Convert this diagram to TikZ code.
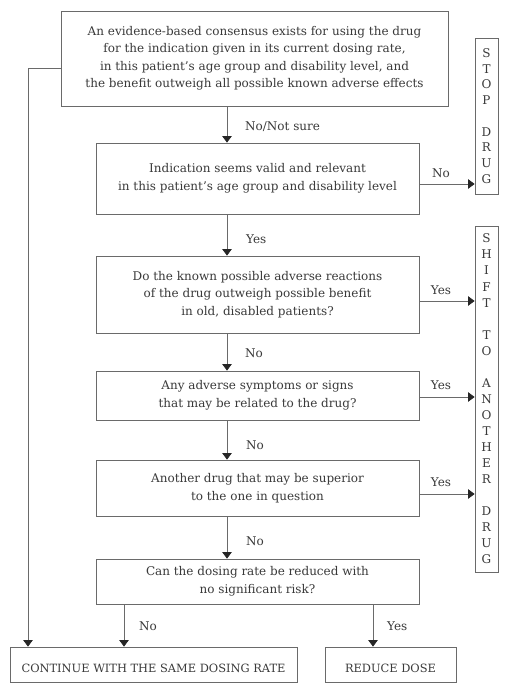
\documentclass[tikz,border=0pt]{standalone}
\usepackage{fontspec}
\setmainfont{DejaVu Serif}
\usetikzlibrary{arrows.meta}
\definecolor{ink}{HTML}{3A3A3A}
\definecolor{linec}{HTML}{6A6A6A}
\definecolor{tipc}{HTML}{262626}
\begin{document}
\begin{tikzpicture}[x=1pt,y=-1pt,
  box/.style={draw=linec,line width=0.8pt,rectangle,align=center,text=ink,
    font=\fontsize{12}{17.5}\selectfont,inner sep=0pt,
    execute at begin node={\rule{0pt}{16pt}}},
  capbox/.style={box,font=\fontsize{11.4}{14}\selectfont,
    execute at begin node={\rule{0pt}{13pt}}},
  side/.style={draw=linec,line width=0.8pt,rectangle,align=center,text=ink,
    inner sep=0pt,minimum width=23pt},
  arr/.style={draw=linec,line width=0.75pt,-{Triangle[width=9.5pt,length=6.5pt,color=tipc]}},
  lbl/.style={text=ink,font=\fontsize{12}{15}\selectfont,inner sep=0pt}]
\useasboundingbox (0,0) rectangle (515,695);
\fill[white] (0,0) rectangle (515,695);

\node[box,minimum width=387pt,minimum height=95pt] (b1) at (254.5,58.5)
  {An evidence-based consensus exists for using the drug\\
   for the indication given in its current dosing rate,\\
   in this patient's age group and disability level, and\\
   the benefit outweigh all possible known adverse effects};
\node[box,minimum width=323pt,minimum height=71pt] (b2) at (257.5,178.5)
  {Indication seems valid and relevant\\
   in this patient's age group and disability level};
\node[box,minimum width=323pt,minimum height=77pt] (b3) at (257.5,294.5)
  {Do the known possible adverse reactions\\
   of the drug outweigh possible benefit\\
   in old, disabled patients?};
\node[box,minimum width=323pt,minimum height=49pt] (b4) at (257.5,395.5)
  {Any adverse symptoms or signs\\
   that may be related to the drug?};
\node[box,minimum width=323pt,minimum height=56pt] (b5) at (257.5,488)
  {Another drug that may be superior\\
   to the one in question};
\node[box,minimum width=323pt,minimum height=45pt] (b6) at (257.5,581.5)
  {Can the dosing rate be reduced with\\
   no significant risk?};
\node[capbox,minimum width=287pt,minimum height=35pt] (cont) at (153.5,664.5)
  {CONTINUE WITH THE SAME DOSING RATE};
\node[capbox,minimum width=131pt,minimum height=35pt] (red) at (390.5,664.5)
  {REDUCE DOSE};

\node[side,minimum height=156pt,font=\fontsize{12}{15.75}\selectfont] (stop) at (486.5,116)
  {S\\T\\O\\P\\~\\D\\R\\U\\G};
\node[side,minimum height=346pt,font=\fontsize{12}{16.05}\selectfont] (shift) at (486.5,399)
  {S\\H\\I\\F\\T\\~\\T\\O\\~\\A\\N\\O\\T\\H\\E\\R\\~\\D\\R\\U\\G};

\coordinate (ax) at (227,0);
\draw[arr] (b1.south -| ax) -- (b2.north -| ax);
\draw[arr] (b2.south -| ax) -- (b3.north -| ax);
\draw[arr] (b3.south -| ax) -- (b4.north -| ax);
\draw[arr] (b4.south -| ax) -- (b5.north -| ax);
\draw[arr] (b5.south -| ax) -- (b6.north -| ax);

\node[lbl,anchor=west] (l1) at (245,127) {No/Not sure};
\node[lbl,anchor=west] (l2) at (246,239) {Yes};
\node[lbl,anchor=west] (l3) at (245,353) {No};
\node[lbl,anchor=west] (l4) at (246,445) {No};
\node[lbl,anchor=west] (l5) at (246,541) {No};

\coordinate (bx) at (124,0);
\coordinate (cx) at (373,0);
\draw[arr] (b6.south -| bx) -- (cont.north -| bx);
\draw[arr] (b6.south -| cx) -- (red.north -| cx);
\node[lbl,anchor=west] (l6) at (139,626) {No};
\node[lbl,anchor=west] (l7) at (387,626) {Yes};

\path ([yshift=-5.5pt]b2.east) coordinate (s2);
\path ([yshift=-6.5pt]b3.east) coordinate (s3);
\path ([yshift=-1.5pt]b4.east) coordinate (s4);
\path ([yshift=-6pt]b5.east) coordinate (s5);
\draw[arr] (s2) -- (s2 -| stop.west);
\draw[arr] (s3) -- (s3 -| shift.west);
\draw[arr] (s4) -- (s4 -| shift.west);
\draw[arr] (s5) -- (s5 -| shift.west);
\node[lbl] (m2) at (441,173) {No};
\node[lbl] (m3) at (441,290) {Yes};
\node[lbl] (m4) at (441,385) {Yes};
\node[lbl] (m5) at (441,482) {Yes};

\path ([yshift=-9.5pt]b1.west) coordinate (lw);
\coordinate (lx) at (28,0);
\draw[arr] (lw) -- (lw -| lx) -- (cont.north -| lx);
\end{tikzpicture}
\end{document}
